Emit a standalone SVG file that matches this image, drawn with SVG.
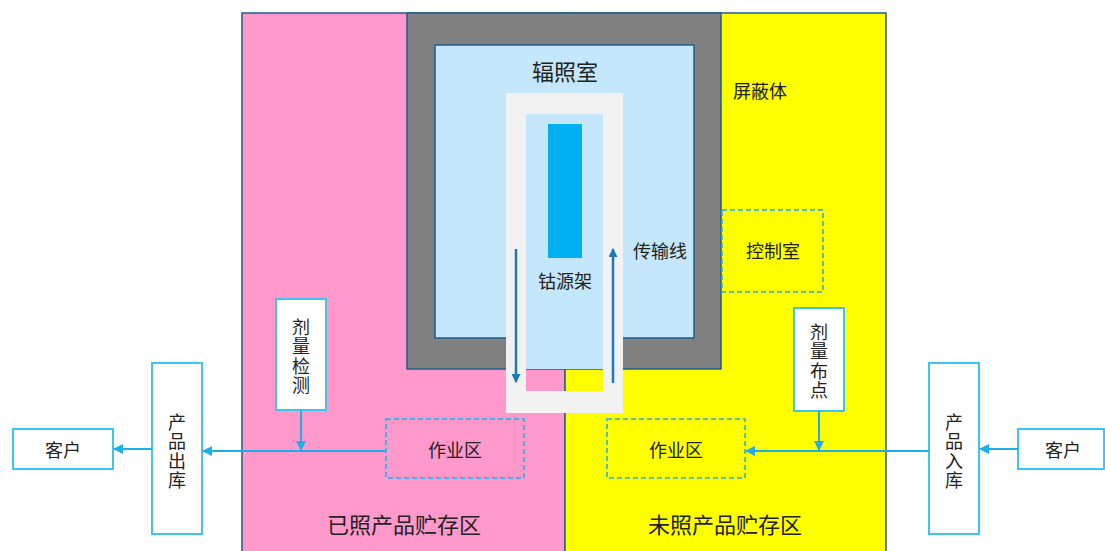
<svg xmlns="http://www.w3.org/2000/svg" width="1105" height="551" viewBox="0 0 1105 551">
<style>
text{font-family:"Noto Sans CJK SC","Noto Sans",sans-serif;fill:#222;text-anchor:middle;dominant-baseline:central}
.t18{font-size:18px}
.t22{font-size:22px}
.vt{font-size:18px;writing-mode:vertical-rl;letter-spacing:1.5px}
.box{fill:#fff;stroke:#3EC4F2;stroke-width:2}
.dash{fill:none;stroke:#1EAEEA;stroke-width:1.5;stroke-dasharray:5 3}
.conn{stroke:#1EAEEA;stroke-width:2;fill:none}
.flow{stroke:#1F77C0;stroke-width:2.5;fill:none}
</style>
<defs>
<marker id="ah" markerWidth="10" markerHeight="10" refX="9" refY="5" orient="auto" markerUnits="userSpaceOnUse" viewBox="0 0 10 10"><path d="M0,0 L10,5 L0,10 z" fill="#1EAEEA"/></marker>
<marker id="ah2" markerWidth="9" markerHeight="9" refX="8" refY="4.5" orient="auto" markerUnits="userSpaceOnUse" viewBox="0 0 9 9"><path d="M0,0 L9,4.5 L0,9 z" fill="#1F77C0"/></marker>
</defs>
<g id="zone-irradiated"><rect x="242" y="13" width="323" height="540" fill="#FF99CC" stroke="#1F5F8B" stroke-width="1.5"/><text class="t22" x="404" y="523">已照产品贮存区</text></g>
<g id="zone-unirradiated"><rect x="565" y="13" width="321" height="540" fill="#FFFF00" stroke="#1F5F8B" stroke-width="1.5"/><text class="t22" x="725" y="523">未照产品贮存区</text></g>
<g id="shield"><rect x="407" y="13" width="314" height="356" fill="#808080" stroke="#1F5F8B" stroke-width="1.5"/><text class="t18" x="760" y="90">屏蔽体</text></g>
<g id="irradiation-room"><rect x="435" y="45" width="259" height="293" fill="#C4E7FB" stroke="#1F5F8B" stroke-width="1.5"/><text class="t22" x="565" y="70">辐照室</text></g>
<g id="conveyor"><path d="M506,93 H623 V413 H506 Z M526,114 V391 H603 V114 Z" fill="#F2F2F2" fill-rule="evenodd"/><rect x="526" y="114" width="77" height="255" fill="#C4E7FB"/><text class="t18" x="660" y="250">传输线</text></g>
<g id="source-rack"><rect x="548" y="124" width="34" height="134" fill="#00B0F0"/><text class="t18" x="565" y="280">钴源架</text></g>
<g id="control-room"><rect class="dash" x="722" y="210" width="101" height="82"/><text class="t18" x="773" y="250">控制室</text></g>
<g id="work-left"><rect class="dash" x="386" y="419" width="138" height="59"/><text class="t18" x="455" y="449">作业区</text></g>
<g id="work-right"><rect class="dash" x="607" y="419" width="138" height="59"/><text class="t18" x="676" y="449">作业区</text></g>
<g id="dose-check"><rect class="box" x="276" y="299" width="50" height="111"/><text class="vt" x="301" y="357">剂量检测</text></g>
<g id="dose-map"><rect class="box" x="794" y="308" width="50" height="103"/><text class="vt" x="819" y="362">剂量布点</text></g>
<g id="outbound"><rect class="box" x="152" y="363" width="50" height="171"/><text class="vt" x="177" y="452">产品出库</text></g>
<g id="inbound"><rect class="box" x="929" y="363" width="50" height="171"/><text class="vt" x="954" y="452">产品入库</text></g>
<g id="customer-left"><rect class="box" x="13" y="429" width="100" height="40"/><text class="t18" x="63" y="449">客户</text></g>
<g id="customer-right"><rect class="box" x="1018" y="429" width="86" height="40"/><text class="t18" x="1063" y="449">客户</text></g>
<g id="connectors">
<line class="conn" x1="386" y1="451" x2="203" y2="451" marker-end="url(#ah)"/>
<line class="conn" x1="301" y1="410" x2="301" y2="450" marker-end="url(#ah)"/>
<line class="conn" x1="152" y1="449" x2="114" y2="449" marker-end="url(#ah)"/>
<line class="conn" x1="929" y1="451" x2="746" y2="451" marker-end="url(#ah)"/>
<line class="conn" x1="819" y1="411" x2="819" y2="450" marker-end="url(#ah)"/>
<line class="conn" x1="1018" y1="449" x2="980" y2="449" marker-end="url(#ah)"/>
<line class="flow" x1="516" y1="249" x2="516" y2="382" marker-end="url(#ah2)"/>
<line class="flow" x1="613" y1="383" x2="613" y2="249" marker-end="url(#ah2)"/>
</g>
</svg>
